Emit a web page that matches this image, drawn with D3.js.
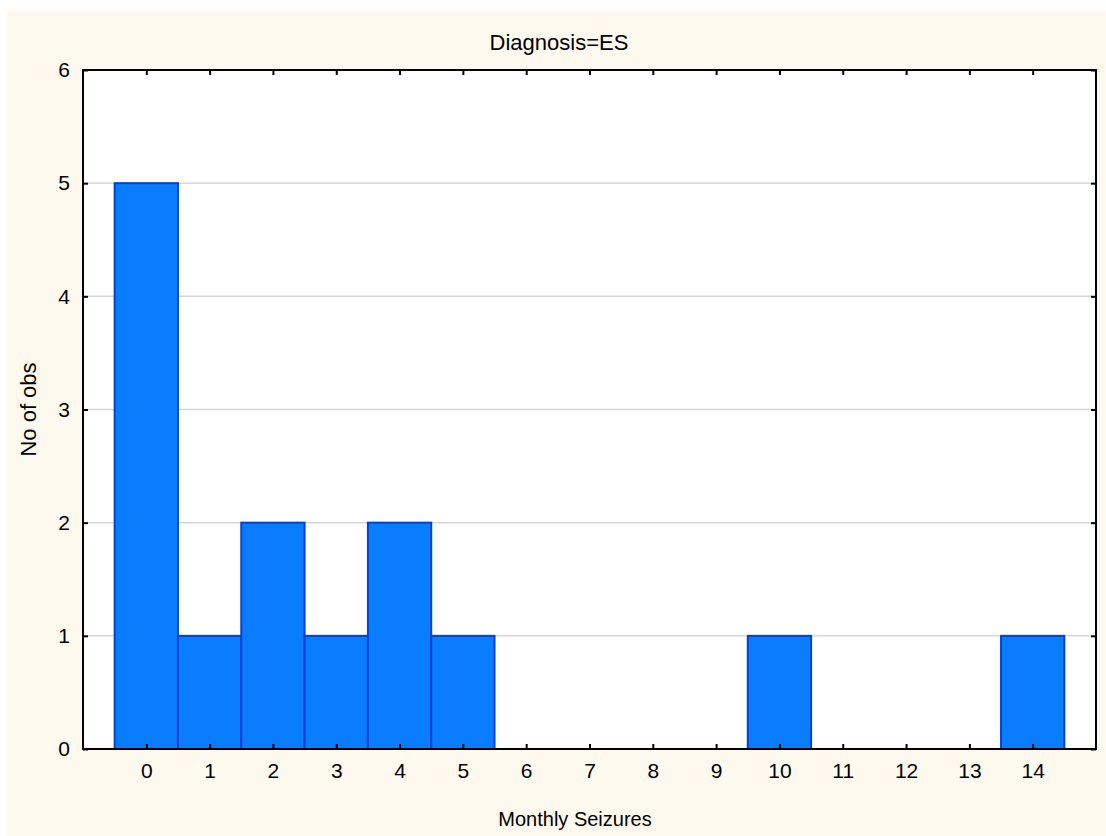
<!DOCTYPE html>
<html>
<head>
<meta charset="utf-8">
<script src="https://cdn.jsdelivr.net/npm/d3@7"></script>
<style>
  html, body { margin: 0; padding: 0; background: #ffffff; }
  svg { display: block; }
  text { font-family: "Liberation Sans", Arial, sans-serif; fill: #000; }
</style>
</head>
<body>
<svg id="chart" width="1106" height="836"></svg>
<script>
const categories = [0, 1, 2, 3, 4, 5, 6, 7, 8, 9, 10, 11, 12, 13, 14];
const counts = [5, 1, 2, 1, 2, 1, 0, 0, 0, 0, 1, 0, 0, 0, 1];
const yTicks = [0, 1, 2, 3, 4, 5, 6];
const titleText = "Diagnosis=ES";
const xLabel = "Monthly Seizures";
const yLabel = "No of obs";

const svg = d3.select("#chart");
const W = 1106, H = 836;
const m = { left: 83, right: 1096, top: 70, bottom: 749 };

svg.append("rect").attr("x", 7).attr("y", 10).attr("width", W - 7).attr("height", H - 10).attr("fill", "#FDF9EE");
svg.append("rect").attr("x", m.left).attr("y", m.top).attr("width", m.right - m.left).attr("height", m.bottom - m.top).attr("fill", "#ffffff");

const x = d3.scaleLinear().domain([-1, 15]).range([m.left, m.right]);
const y = d3.scaleLinear().domain([0, 6]).range([m.bottom, m.top]);

// gridlines
svg.append("g").selectAll("line").data(yTicks.filter(t => t > 0 && t < 6)).join("line")
  .attr("x1", m.left).attr("x2", m.right)
  .attr("y1", d => y(d)).attr("y2", d => y(d))
  .attr("stroke", "#d6d6d6").attr("stroke-width", 1.5);

// bars
const data = categories.map((c, i) => ({ c, v: counts[i] })).filter(d => d.v > 0);
svg.append("g").selectAll("rect").data(data).join("rect")
  .attr("x", d => x(d.c - 0.5))
  .attr("width", d => x(d.c + 0.5) - x(d.c - 0.5))
  .attr("y", d => y(d.v))
  .attr("height", d => y(0) - y(d.v))
  .attr("fill", "#0A7DFF")
  .attr("stroke", "#0343D3")
  .attr("stroke-width", 2);

// axes
const tickLen = 5;
const axB = d3.axisBottom(x).tickValues(categories).tickSize(-tickLen).tickPadding(14).tickFormat(d3.format("d"));
const gB = svg.append("g").attr("transform", `translate(0,${m.bottom})`).call(axB);
const axT = d3.axisTop(x).tickValues(categories).tickSize(-tickLen).tickFormat("");
const gT = svg.append("g").attr("transform", `translate(0,${m.top})`).call(axT);
const axL = d3.axisLeft(y).tickValues(yTicks).tickSize(-tickLen).tickPadding(13).tickFormat(d3.format("d"));
const gL = svg.append("g").attr("transform", `translate(${m.left},0)`).call(axL);
const axR = d3.axisRight(y).tickValues(yTicks).tickSize(-tickLen).tickFormat("");
const gR = svg.append("g").attr("transform", `translate(${m.right},0)`).call(axR);

[gB, gT, gL, gR].forEach(g => {
  g.select(".domain").remove();
  g.selectAll(".tick line").attr("stroke", "#000").attr("stroke-width", 2);
  g.selectAll(".tick text").attr("font-size", 21).attr("font-family", "Liberation Sans, Arial, sans-serif").attr("fill", "#000");
});
gB.selectAll(".tick text").attr("dy", "0.71em");

// frame
svg.append("rect").attr("x", m.left).attr("y", m.top).attr("width", m.right - m.left).attr("height", m.bottom - m.top)
  .attr("fill", "none").attr("stroke", "#000").attr("stroke-width", 2);

// title and labels
svg.append("text").attr("x", 559).attr("y", 50).attr("text-anchor", "middle").attr("font-size", 22).text(titleText);
svg.append("text").attr("x", 575).attr("y", 826).attr("text-anchor", "middle").attr("font-size", 20).text(xLabel);
svg.append("text").attr("transform", `translate(36,${(m.top + m.bottom) / 2}) rotate(-90)`).attr("text-anchor", "middle").attr("font-size", 22).text(yLabel);
</script>
</body>
</html>
